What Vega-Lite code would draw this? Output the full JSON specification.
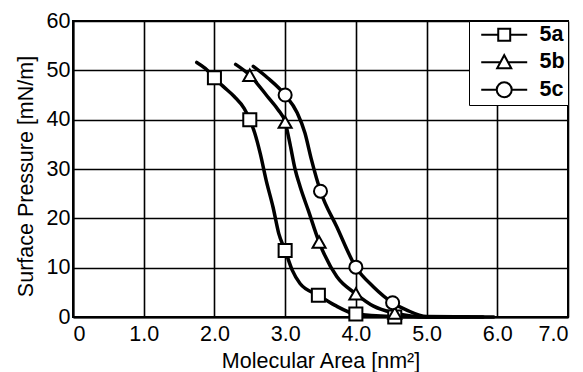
{
  "$schema": "https://vega.github.io/schema/vega-lite/v6.json",
  "width": 495,
  "height": 296,
  "autosize": {"type": "none"},
  "padding": {"left": 73, "top": 21, "right": 15, "bottom": 55},
  "background": "white",
  "config": {
    "font": "Liberation Sans",
    "view": {"stroke": "black", "strokeWidth": 2},
    "axis": {
      "domainColor": "black", "domainWidth": 2,
      "gridColor": "black", "gridWidth": 1.6, "gridOpacity": 1,
      "ticks": false,
      "labelFontSize": 21.5, "labelColor": "black",
      "titleFontSize": 21.5, "titleFontWeight": "normal", "titleColor": "black"
    }
  },
  "datasets": {
    "curves": [
      {"area": 1.75, "p": 51.6, "s": "5a"}, {"area": 1.87, "p": 50.4, "s": "5a"}, {"area": 2.0, "p": 48.5, "s": "5a"},
      {"area": 2.12, "p": 46.8, "s": "5a"}, {"area": 2.28, "p": 44.7, "s": "5a"}, {"area": 2.42, "p": 42.3, "s": "5a"},
      {"area": 2.5, "p": 40, "s": "5a"}, {"area": 2.57, "p": 37.3, "s": "5a"}, {"area": 2.65, "p": 33, "s": "5a"},
      {"area": 2.73, "p": 27.8, "s": "5a"}, {"area": 2.83, "p": 22.2, "s": "5a"}, {"area": 2.91, "p": 16.9, "s": "5a"},
      {"area": 3.0, "p": 13.5, "s": "5a"}, {"area": 3.1, "p": 9.5, "s": "5a"}, {"area": 3.21, "p": 6.8, "s": "5a"},
      {"area": 3.47, "p": 4.4, "s": "5a"}, {"area": 3.7, "p": 2.4, "s": "5a"}, {"area": 4.0, "p": 0.6, "s": "5a"},
      {"area": 4.5, "p": 0.1, "s": "5a"}, {"area": 5.0, "p": 0, "s": "5a"}, {"area": 5.95, "p": 0, "s": "5a"},
      {"area": 2.3, "p": 51.2, "s": "5b"}, {"area": 2.5, "p": 49, "s": "5b"}, {"area": 2.75, "p": 44.7, "s": "5b"},
      {"area": 2.9, "p": 42, "s": "5b"}, {"area": 3.0, "p": 39.5, "s": "5b"}, {"area": 3.07, "p": 35, "s": "5b"},
      {"area": 3.14, "p": 30, "s": "5b"}, {"area": 3.21, "p": 26.5, "s": "5b"}, {"area": 3.33, "p": 21.5, "s": "5b"},
      {"area": 3.48, "p": 15.2, "s": "5b"}, {"area": 3.73, "p": 8.2, "s": "5b"}, {"area": 4.0, "p": 4.7, "s": "5b"},
      {"area": 4.25, "p": 2.2, "s": "5b"}, {"area": 4.55, "p": 0.8, "s": "5b"}, {"area": 5.0, "p": 0, "s": "5b"},
      {"area": 5.6, "p": 0, "s": "5b"},
      {"area": 2.55, "p": 50.8, "s": "5c"}, {"area": 2.75, "p": 48.5, "s": "5c"}, {"area": 3.0, "p": 45, "s": "5c"},
      {"area": 3.17, "p": 41.4, "s": "5c"}, {"area": 3.28, "p": 37.3, "s": "5c"}, {"area": 3.37, "p": 32, "s": "5c"},
      {"area": 3.5, "p": 25.5, "s": "5c"}, {"area": 3.73, "p": 18.3, "s": "5c"}, {"area": 4.0, "p": 10.1, "s": "5c"},
      {"area": 4.25, "p": 6.1, "s": "5c"}, {"area": 4.52, "p": 2.9, "s": "5c"}, {"area": 4.72, "p": 1.4, "s": "5c"},
      {"area": 5.0, "p": 0.1, "s": "5c"}, {"area": 5.8, "p": 0, "s": "5c"}
    ],
    "markers": [
      {"area": 2.0, "p": 48.5, "s": "5a"}, {"area": 2.5, "p": 40, "s": "5a"}, {"area": 3.0, "p": 13.5, "s": "5a"},
      {"area": 3.47, "p": 4.4, "s": "5a"}, {"area": 4.0, "p": 0.6, "s": "5a"}, {"area": 4.55, "p": 0, "s": "5a"},
      {"area": 2.5, "p": 49, "s": "5b"}, {"area": 3.0, "p": 39.5, "s": "5b"}, {"area": 3.48, "p": 15.2, "s": "5b"},
      {"area": 4.0, "p": 4.7, "s": "5b"}, {"area": 4.55, "p": 0.8, "s": "5b"},
      {"area": 3.0, "p": 45, "s": "5c"}, {"area": 3.5, "p": 25.5, "s": "5c"}, {"area": 4.0, "p": 10.1, "s": "5c"},
      {"area": 4.52, "p": 2.9, "s": "5c"}
    ]
  },
  "layer": [
    {
      "data": {"name": "curves"},
      "mark": {"type": "line", "interpolate": "monotone", "color": "black", "strokeWidth": 3.5, "strokeCap": "round"},
      "encoding": {
        "x": {"field": "area", "type": "quantitative",
          "scale": {"domain": [0, 7], "nice": false},
          "axis": {"values": [0, 1, 2, 3, 4, 5, 6, 7], "labelPadding": 6, "titlePadding": 6,
            "labelExpr": "datum.value == 0 ? '0' : format(datum.value, '.1f')",
            "title": "Molecular Area [nm²]"}},
        "y": {"field": "p", "type": "quantitative",
          "scale": {"domain": [0, 60], "nice": false},
          "axis": {"values": [0, 10, 20, 30, 40, 50, 60], "labelPadding": 3, "titlePadding": 9, "titleY": 155,
            "title": "Surface Pressure [mN/m]",
            "encode": {"labels": {"update": {"dx": {"signal": "datum.value == 0 ? -9 : 0"}}}}}},
        "detail": {"field": "s"}
      }
    },
    {
      "data": {"name": "markers"},
      "mark": {"type": "point", "filled": true, "fill": "white", "stroke": "black", "strokeWidth": 2, "size": 170, "opacity": 1},
      "encoding": {
        "x": {"field": "area", "type": "quantitative"},
        "y": {"field": "p", "type": "quantitative"},
        "shape": {"field": "s", "type": "nominal",
          "scale": {"domain": ["5a", "5b", "5c"], "range": ["square", "triangle-up", "circle"]},
          "legend": null}
      }
    },
    {
      "data": {"name": "markers"},
      "transform": [{"filter": "datum.s == 'none'"}],
      "mark": {"type": "point", "filled": false, "stroke": "black", "strokeWidth": 2, "opacity": 1},
      "encoding": {
        "x": {"field": "area", "type": "quantitative"},
        "y": {"field": "p", "type": "quantitative"},
        "shape": {"field": "s", "type": "nominal",
          "scale": {"domain": ["5a", "5b", "5c"], "range": [
            "M-0.16,0H1.63M2.89,0H4.68M1.63,-0.63H2.89V0.63H1.63Z",
            "M-0.16,0H1.86M2.66,0H4.68M1.52,0.63L2.26,-0.74L3.0,0.63Z",
            "M-0.16,0H1.47M3.05,0H4.68M1.47,0A0.79,0.79 0 1,0 3.05,0A0.79,0.79 0 1,0 1.47,0Z"
          ]},
          "legend": {
            "title": null, "orient": "top-right", "offset": 0, "padding": 3,
            "strokeColor": "black", "fillColor": "white",
            "symbolSize": 361, "symbolStrokeWidth": 2, "symbolStrokeColor": "black",
            "symbolOpacity": 1,
            "labelFontSize": 21.5, "labelFontWeight": "bold", "labelColor": "black", "labelOffset": 46,
            "labelExpr": "datum.label + '\u2002'",
            "rowPadding": 4.5
          }}
      }
    }
  ],
  "resolve": {"scale": {"shape": "independent"}}
}
